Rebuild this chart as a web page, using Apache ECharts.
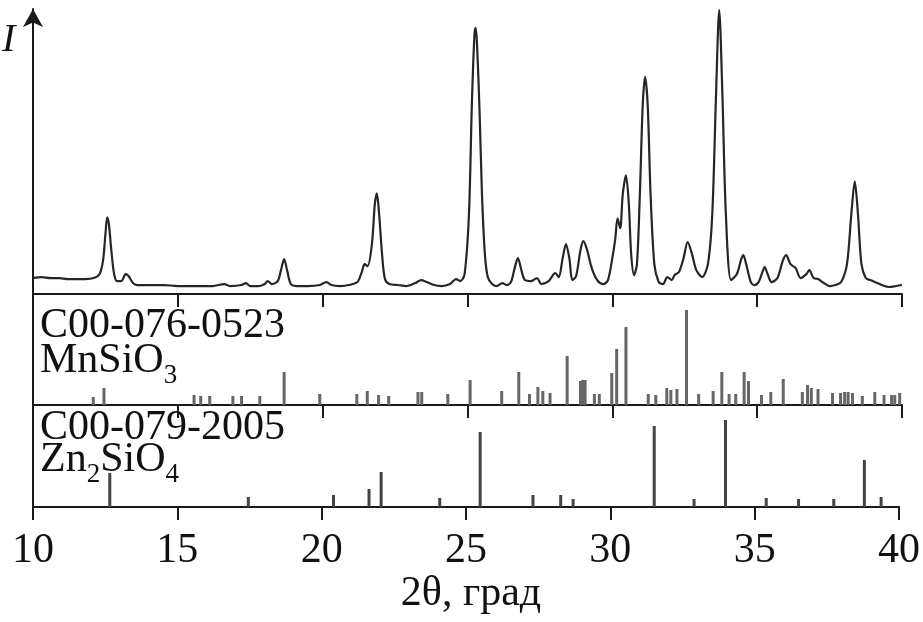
<!DOCTYPE html>
<html>
<head>
<meta charset="utf-8">
<script src="https://cdn.jsdelivr.net/npm/echarts@6/dist/echarts.min.js"></script>
<style>
html,body{margin:0;padding:0;background:#fff;}
#chart{width:923px;height:622px;}
</style>
</head>
<body>
<div id="chart"></div>
<script>
// ---- Data ----
const curveX = [10.0,10.3,10.6,10.9,11.2,11.5,11.8,12.1,12.3,12.42,12.5,12.56,12.62,12.7,12.8,12.9,13.05,13.2,13.3,13.45,13.6,14.0,14.5,15.0,15.4,15.8,16.2,16.6,16.8,17.2,17.35,17.5,17.8,18.0,18.1,18.25,18.45,18.57,18.67,18.77,18.9,19.1,19.5,19.9,20.13,20.3,20.6,20.9,21.2,21.35,21.45,21.55,21.7,21.8,21.87,21.95,22.05,22.15,22.3,22.6,22.9,23.2,23.4,23.6,23.85,24.1,24.4,24.6,24.75,24.9,25.05,25.15,25.24,25.28,25.33,25.42,25.5,25.6,25.7,25.85,26.0,26.2,26.35,26.5,26.62,26.74,26.86,26.98,27.2,27.4,27.55,27.8,28.03,28.15,28.28,28.4,28.52,28.62,28.75,28.9,29.0,29.12,29.3,29.5,29.7,29.85,30.0,30.1,30.18,30.27,30.36,30.47,30.57,30.65,30.75,30.85,30.95,31.05,31.13,31.22,31.32,31.45,31.6,31.75,31.9,32.05,32.15,32.3,32.45,32.6,32.75,32.9,33.1,33.3,33.45,33.58,33.69,33.8,33.92,34.1,34.3,34.45,34.52,34.62,34.78,34.9,35.05,35.18,35.26,35.36,35.5,35.7,35.88,36.0,36.15,36.33,36.5,36.7,36.8,36.95,37.1,37.3,37.5,37.7,37.9,38.1,38.25,38.37,38.48,38.6,38.75,38.9,39.15,39.3,39.55,39.8,40.0];
const curveI = [16,17,16,16,15,15,15,16,20,34,60,77,70,45,20,13,13,20,18,11,9,9,9,8,8,8,8,10,8,9,11,8,8,10,13,10,13,25,35,24,10,8,8,9,12,9,8,9,12,22,30,28,50,90,101,80,40,15,10,9,8,11,14,12,9,8,10,15,13,20,80,190,260,267,250,180,100,40,17,10,8,11,9,12,25,36,24,14,13,16,10,13,21,17,35,50,35,14,18,44,53,45,25,13,10,14,36,55,76,66,100,119,90,40,19,30,100,190,218,190,100,30,12,10,17,14,19,22,35,52,40,24,17,30,80,200,285,200,80,14,20,35,39,30,12,9,12,22,27,20,12,16,33,39,30,26,16,20,24,16,15,11,8,9,12,30,80,113,80,30,16,14,11,9,7,8,9];

const mnPos = [12.08,12.45,15.56,15.79,16.1,16.9,17.2,17.83,18.67,19.9,21.18,21.54,21.93,22.28,23.29,23.42,24.32,25.09,26.18,26.77,27.14,27.43,27.6,27.85,28.44,28.9,28.98,29.06,29.38,29.55,29.98,30.15,30.47,31.24,31.5,31.88,32.02,32.23,32.56,32.98,33.48,33.78,34.03,34.26,34.55,34.7,35.15,35.47,35.9,36.56,36.74,36.87,37.1,37.6,37.88,38.02,38.14,38.29,38.63,39.06,39.38,39.64,39.75,39.92];
const mnInt = [8,17,10,9,9,9,9,9,33,11,11,14,10,9,13,13,11,25,14,33,11,18,14,12,49,24,25,25,11,11,32,56,78,11,10,17,15,16,95,11,14,33,11,11,33,24,10,13,26,13,20,17,16,12,12,13,13,12,9,13,10,10,10,12];

const znPos = [12.66,17.46,20.41,21.64,22.06,24.09,25.49,27.32,28.28,28.71,31.52,32.9,33.99,35.4,36.52,37.74,38.8,39.38];
const znInt = [34,10,12,18,35,9,75,12,12,8,81,8,87,9,8,8,47,10];

const xTicksMin = 10, xTicksMax = 40, xTickStep = 5;

// ---- Build ----
const serif = '"Liberation Serif","Times New Roman",serif';
const chart = echarts.init(document.getElementById('chart'));

function zip(a, b) { return a.map((v, i) => [v, b[i]]); }

function xAxisFor(gridIndex, showLabels) {
  return {
    type: 'value', gridIndex: gridIndex,
    min: xTicksMin, max: xTicksMax, interval: xTickStep,
    axisLine: { show: true, onZero: false, lineStyle: { color: '#1a1a1a', width: 2 } },
    axisTick: { show: true, length: 13, lineStyle: { color: '#1a1a1a', width: 2 } },
    axisLabel: showLabels ? { show: true, fontFamily: serif, fontSize: 42, color: '#111', margin: 23 } : { show: false },
    splitLine: { show: false },
    name: showLabels ? '2θ, град' : '',
    nameLocation: 'middle', nameGap: 63,
    nameTextStyle: { fontFamily: serif, fontSize: 42, color: '#111', padding: [0, 0, 0, 10] }
  };
}
function yAxisFor(gridIndex, max, arrow) {
  return {
    type: 'value', gridIndex: gridIndex, min: 0, max: max,
    axisLine: { show: true, onZero: false, lineStyle: { color: '#1a1a1a', width: 2 },
      symbol: arrow ? ['none', 'arrow'] : ['none', 'none'], symbolSize: [15, 18] },
    axisTick: { show: false }, axisLabel: { show: false }, splitLine: { show: false }
  };
}

const ctx = document.createElement('canvas').getContext('2d');
function tw(text, size) { ctx.font = size + 'px ' + serif; return ctx.measureText(text).width; }

const mainSize = 42, subSize = 27;
function txt(x, y, text, size, italic) {
  return { type: 'text', x: x, y: y, silent: true,
    style: { text: text, fontFamily: serif, fontSize: size, fontStyle: italic ? 'italic' : 'normal',
      fill: '#111', align: 'left', verticalAlign: 'middle', textAlign: 'left', textVerticalAlign: 'middle' } };
}
const gx = 40;
const graphics = [];
graphics.push(txt(2, 40, 'I', 40, true));
graphics.push(txt(gx, 326, 'C00-076-0523', mainSize));
graphics.push(txt(gx, 361, 'MnSiO', mainSize));
graphics.push(txt(gx + tw('MnSiO', mainSize), 376, '3', subSize));
graphics.push(txt(gx, 428, 'C00-079-2005', mainSize));
graphics.push(txt(gx, 460, 'Zn', mainSize));
const w1 = tw('Zn', mainSize), w2 = tw('2', subSize);
graphics.push(txt(gx + w1, 475, '2', subSize));
graphics.push(txt(gx + w1 + w2, 460, 'SiO', mainSize));
graphics.push(txt(gx + w1 + w2 + tw('SiO', mainSize), 475, '4', subSize));

const option = {
  backgroundColor: '#fff',
  animation: false,
  grid: [
    { left: 33, right: 21, top: 9, height: 285 },
    { left: 33, right: 21, top: 294, height: 111 },
    { left: 33, right: 21, top: 405, height: 102 }
  ],
  xAxis: [xAxisFor(0, false), xAxisFor(1, false), xAxisFor(2, true)],
  yAxis: [yAxisFor(0, 286, true), yAxisFor(1, 111, false), yAxisFor(2, 102, false)],
  series: [
    { type: 'line', xAxisIndex: 0, yAxisIndex: 0, data: zip(curveX, curveI), showSymbol: false,
      smooth: 0.3, lineStyle: { color: '#262626', width: 2.2 }, z: 3 },
    { type: 'bar', xAxisIndex: 1, yAxisIndex: 1, data: zip(mnPos, mnInt), barWidth: 3,
      itemStyle: { color: '#666' } },
    { type: 'bar', xAxisIndex: 2, yAxisIndex: 2, data: zip(znPos, znInt), barWidth: 3,
      itemStyle: { color: '#444' } }
  ],
  graphic: graphics
};
chart.setOption(option);
</script>
</body>
</html>
